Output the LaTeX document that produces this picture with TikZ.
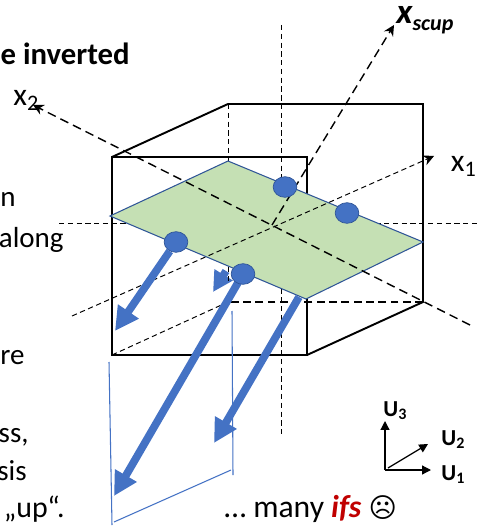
\documentclass[tikz,border=0pt]{standalone}
\usepackage{fontspec}
\setmainfont{Carlito}
\newfontfamily\symbfont{DejaVu Sans}
\usetikzlibrary{arrows.meta, positioning, calc}
\definecolor{cblue}{HTML}{4472C4}
\definecolor{cedge}{HTML}{2F5597}
\definecolor{cgreen}{HTML}{C5E0B4}
\definecolor{cred}{HTML}{C00000}
\tikzset{
  every picture/.style={font=\fontsize{16.5}{16.5}\selectfont},
  boxline/.style={draw=black, line width=1.1pt},
  hidden/.style={draw=black, line width=0.55pt, dash pattern=on 3pt off 2pt},
  backline/.style={draw=black, line width=0.7pt, dash pattern=on 4.5pt off 2.5pt},
  axis/.style={draw=black, line width=0.8pt, dash pattern=on 5pt off 3pt},
  thinaxis/.style={draw=black, line width=0.55pt, dash pattern=on 3pt off 2pt},
  vec/.style={-{Triangle[length=#1, width=#1]}, draw=cblue, line width=4.4pt},
  vec/.default=13.5pt,
  span/.style={draw=cblue, line width=0.6pt},
  dot/.style={circle, fill=cblue, draw=cedge, line width=0.4pt, minimum width=13.5pt, minimum height=0pt, inner sep=0pt, yscale=0.87},
  tip/.style={-{Stealth[length=6pt, width=6pt]}},
  basis/.style={-{Triangle[length=5pt, width=5pt]}, draw=black, line width=0.7pt},
  side/.style={anchor=base east, inner sep=0pt},
  lab/.style={anchor=base west, inner sep=0pt},
  xlab/.style={lab, font=\fontsize{18}{18}\selectfont},
  ulab/.style={lab, font=\bfseries\fontsize{13}{13}\selectfont},
}
\begin{document}
\begin{tikzpicture}[x=0.02cm, y=-0.02cm]
  \useasboundingbox (0,0) rectangle (478,526);
  % corners of the cube
  \coordinate (ftl) at (112,157);
  \coordinate (ftr) at (307,157);
  \coordinate (fbl) at (112,355);
  \coordinate (fbr) at (307,355);
  \coordinate (btl) at (228,104);
  \coordinate (btr) at (423,104);
  \coordinate (bbl) at (228,302);
  \coordinate (bbr) at (423,302);
  % axes
  \coordinate (o) at (272,225);
  \coordinate (x2a) at (33,105);
  \coordinate (x2b) at (470,325);
  \coordinate (x1a) at (72,316);
  \coordinate (x1b) at (434,156);
  \coordinate (xs) at (394,25);
  \coordinate (va) at (281,25);
  \coordinate (vb) at (281,435);
  \coordinate (ha) at (59,223);
  \coordinate (hb) at (478,223);
  % behind the plane
  \draw[hidden] (va) -- (vb);
  \draw[hidden] (ha) -- (hb);
  \draw[hidden] (btl) -- (228,165);
  \draw[hidden] (fbl) -- (bbl);
  \draw[backline] (bbr) -- (bbl);
  \draw[boxline] (ftl) -- (ftr) -- (fbr) -- (fbl) -- cycle;
  \draw[boxline] (ftl) -- (btl) -- (btr) -- (bbr) -- (fbr);
  % plane
  \draw[fill=cgreen, draw=cedge, line width=0.6pt] (110,216) -- (228,161) -- (423,242) -- (306,299) -- cycle;
  \draw[axis, tip] (x2b) -- (x2a);
  \draw[thinaxis, tip] (x1a) -- (x1b);
  \draw[axis, tip] (o) -- (xs);
  % vectors
  \node[dot] (d1) at (176,242) {};
  \node[dot] (d2) at (285,187) {};
  \node[dot] (d3) at (347,213) {};
  \draw[vec=11.5pt] (226,271) -- (213,292);
  \draw[hidden] (228,267) -- (228,283);
  \draw[vec] (243,274) -- (114,496);
  \node[dot] (d4) at (243,274) {};
  \draw[vec] (d1) -- (115,331);
  \draw[vec] (299,297) -- (214,443);
  % spans
  \draw[span] (109,362) -- (112,525);
  \draw[span] (232,311) -- (233,475);
  \draw[span] (114,522) -- (231,470);
  % basis
  \coordinate (u0) at (385,470);
  \draw[basis] (u0) -- (385,421);
  \draw[basis] (u0) -- (431,470);
  \draw[basis] (388,468) -- (428,444);
  % texts
  \node[side, font=\bfseries\fontsize{17.5}{17.5}\selectfont] (t1) at (130,65) {e inverted};
  \node[xlab] (lx2) at (13,106) {x\textsubscript{2}};
  \node[xlab, anchor=base east] (lx1) at (477,172) {x\textsubscript{1}};
  \node[lab] (lxs) at (396,24) {\bfseries\itshape\fontsize{20}{20}\selectfont x\raisebox{-3.5pt}{\fontsize{12.5}{12.5}\selectfont scup}};
  \node[lab] (t2) at (0,207) {n};
  \node[side] (t3) at (64,248) {along};
  \node[lab] (t4) at (0,364) {re};
  \node[side] (t5) at (29,442) {ss,};
  \node[side] (t6) at (27,480) {sis};
  \node[side, font=\fontsize{17}{17}\selectfont] (t7) at (65,517) {„up“.};
  \node[lab, font=\fontsize{18}{18}\selectfont] (t8) at (224,517) {… many \textcolor{cred}{\bfseries\itshape ifs} {\symbfont\fontsize{15.5}{15.5}\selectfont ☹}};
  \node[ulab] (u3) at (383,416) {U\textsubscript{3}};
  \node[ulab] (u2) at (441,445) {U\textsubscript{2}};
  \node[ulab] (u1) at (441,480) {U\textsubscript{1}};
\end{tikzpicture}
\end{document}
